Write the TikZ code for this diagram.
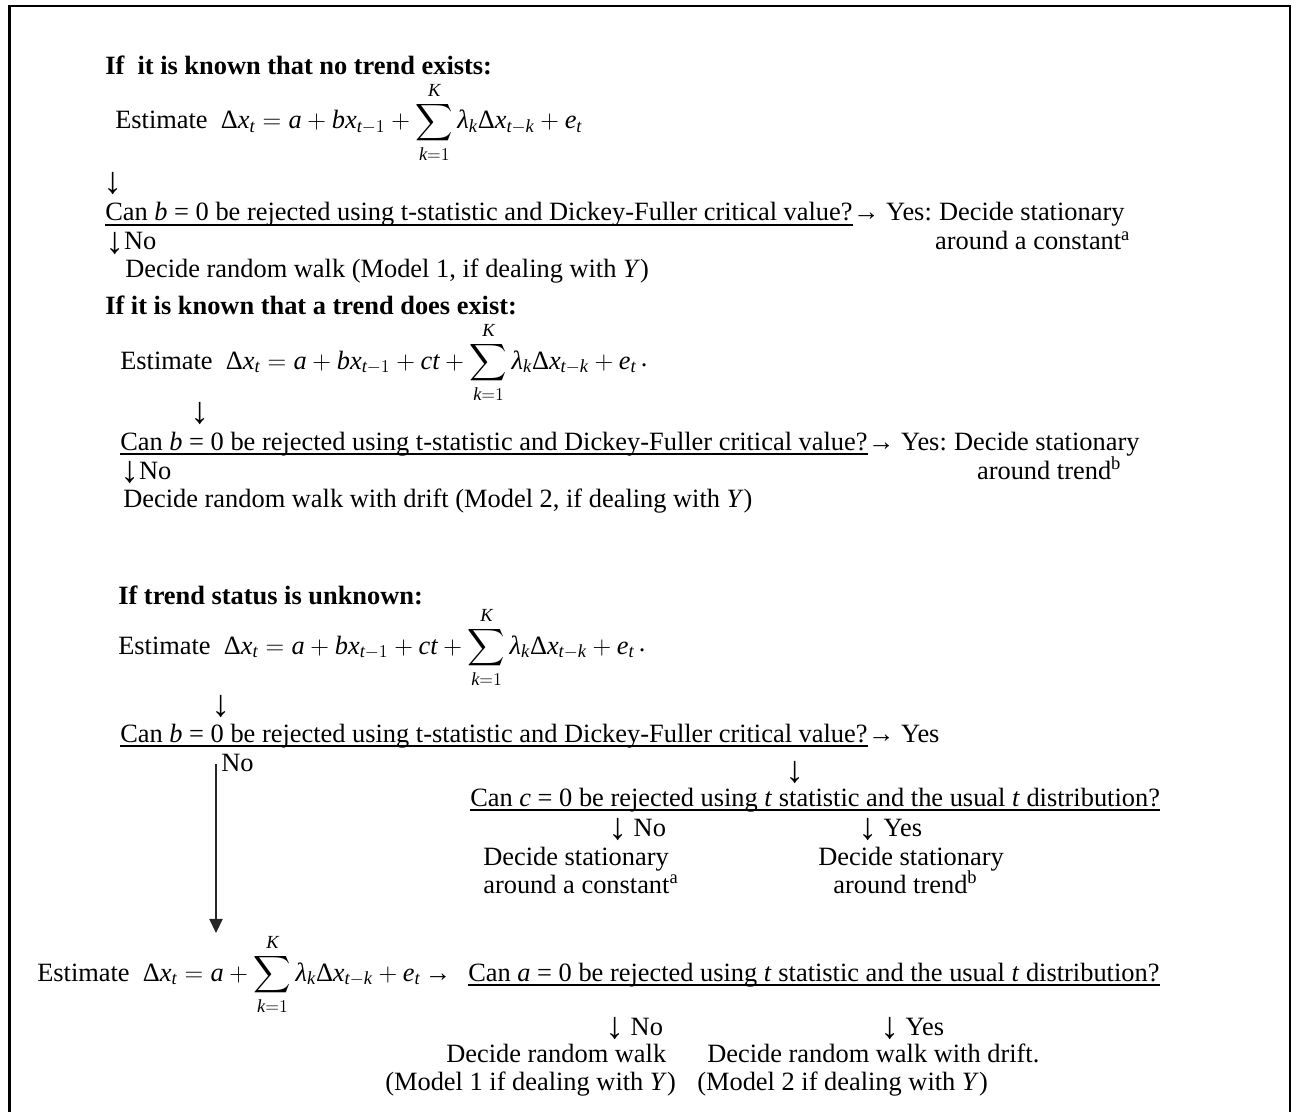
\documentclass[tikz,border=0pt]{standalone}
\usepackage{amsmath}
\usepackage{graphicx}
\usepackage{fontspec}
\setmainfont{Liberation Serif}
\usetikzlibrary{arrows.meta,calc}
\newcommand\mi[1]{\text{\normalfont\itshape #1}}
\newcommand\DD{\text{\normalfont Δ}}
\newcommand\da{\raisebox{-0.14em}{\resizebox{!}{0.8em}{↓}}}
\newcommand\eqA{$\DD\mi{x}_{\mi{t}} = \mi{a} + \mi{bx}_{\mi{t}-1} + \displaystyle\sum_{\mi{k}=1}^{\mi{K}}\mi{λ}_{\mi{k}}\DD\mi{x}_{\mi{t}-\mi{k}} + \mi{e}_{\mi{t}}$}
\newcommand\eqB{$\DD\mi{x}_{\mi{t}} = \mi{a} + \mi{bx}_{\mi{t}-1} + \mi{ct} + \displaystyle\sum_{\mi{k}=1}^{\mi{K}}\mi{λ}_{\mi{k}}\DD\mi{x}_{\mi{t}-\mi{k}} + \mi{e}_{\mi{t}}\,\raisebox{2pt}{.}$}
\newcommand\eqC{$\DD\mi{x}_{\mi{t}} = \mi{a} + \displaystyle\sum_{\mi{k}=1}^{\mi{K}}\mi{λ}_{\mi{k}}\DD\mi{x}_{\mi{t}-\mi{k}} + \mi{e}_{\mi{t}}$}
\newcommand\qb{Can \textit{b} = 0 be rejected using t-statistic and Dickey-Fuller critical value?}
\begin{document}
\begin{tikzpicture}[x=0.6667pt,y=-0.6667pt,
  txt/.style={anchor=base west,inner sep=0pt,font=\fontsize{17.6pt}{20pt}\selectfont},
  hd/.style={txt,font=\fontsize{17.6pt}{20pt}\selectfont\bfseries},
  frame/.style={line width=1.7pt},
  ul/.style={line width=1.3pt},
  conn/.style={line width=0.7pt,black!85,-{Triangle[width=9pt,length=9.5pt]}}]
\useasboundingbox (0,0) rectangle (1297,1112);
\draw[frame] (9.5,1112) -- (9.5,6) -- (1290,6) -- (1290,1112);
% section 1
\node[hd] (h1) at (105,75) {If\ \ it is known that no trend exists:};
\node[txt] (e1) at (115,129) {Estimate\ \ \eqA};
\node[txt] (a1) at (103,190) {\da};
\node[txt] (q1) at (105,221) {\qb};
\node[txt] (y1) at (q1.base east) {→ Yes:};
\node[txt] (s1) at ([xshift=4.4pt]y1.base east) {Decide stationary};
\node[txt] (c1) at ($(s1.base west)+(-4,29)$) {around a constant\textsuperscript{a}};
\node[txt] (n1) at (105,250) {\da No};
\node[txt] (d1) at (125,278) {Decide random walk (Model 1, if dealing with \textit{Y})};
% section 2
\node[hd] (h2) at (105,315) {If it is known that a trend does exist:};
\node[txt] (e2) at (120,369) {Estimate\ \ \eqB};
\node[txt] (a2) at (190,420) {\da};
\node[txt] (q2) at (120,450) {\qb};
\node[txt] (y2) at (q2.base east) {→ Yes:};
\node[txt] (s2) at ([xshift=4.4pt]y2.base east) {Decide stationary};
\node[txt] (c2) at ($(s2.base west)+(23,29)$) {around trend\textsuperscript{b}};
\node[txt] (n2) at (120,479) {\da No};
\node[txt] (d2) at (123,507) {Decide random walk with drift (Model 2, if dealing with \textit{Y})};
% section 3
\node[hd] (h3) at (118,604) {If trend status is unknown:};
\node[txt] (e3) at (118,654) {Estimate\ \ \eqB};
\node[txt] (a3) at (211,713) {\da};
\node[txt] (q3) at (120,742) {\qb};
\node[txt] (y3) at (q3.base east) {→ Yes};
\node[txt] (no3) at (221,771) {No};
\node[txt] (a3b) at (785,779) {\da};
\node[txt] (q4) at (470,806) {Can \textit{c} = 0 be rejected using \textit{t} statistic and the usual \textit{t} distribution?};
\node[txt] (n4) at (608,836) {\da\ No};
\node[txt] (y4) at (858,836) {\da\ Yes};
\node[txt] (s4a) at (483,865) {Decide stationary};
\node[txt] (s4b) at (818,865) {Decide stationary};
\node[txt] (c4a) at (483,893) {around a constant\textsuperscript{a}};
\node[txt] (c4b) at (833,893) {around trend\textsuperscript{b}};
\coordinate (vtop) at (216,764);
\coordinate (vend) at (216,933);
\draw[conn] (vtop) -- (vend);
% section 4
\node[txt] (e4) at (37,981) {Estimate\ \ \eqC\,→};
\node[txt] (q5) at (468,981) {Can \textit{a} = 0 be rejected using \textit{t} statistic and the usual \textit{t} distribution?};
\node[txt] (n5) at (605,1035) {\da\ No};
\node[txt] (y5) at (880,1035) {\da\ Yes};
\node[txt] (r5a) at (446,1062) {Decide random walk};
\node[txt] (r5b) at (707,1062) {Decide random walk with drift.};
\node[txt] (m5a) at (385,1090) {(Model 1 if dealing with \textit{Y})};
\node[txt] (m5b) at (697,1090) {(Model 2 if dealing with \textit{Y})};
% underlines
\foreach \q in {q1,q2,q3,q4,q5}
  \draw[ul] ([yshift=-2.4pt]\q.base west) -- ([yshift=-2.4pt]\q.base east);
\end{tikzpicture}
\end{document}
